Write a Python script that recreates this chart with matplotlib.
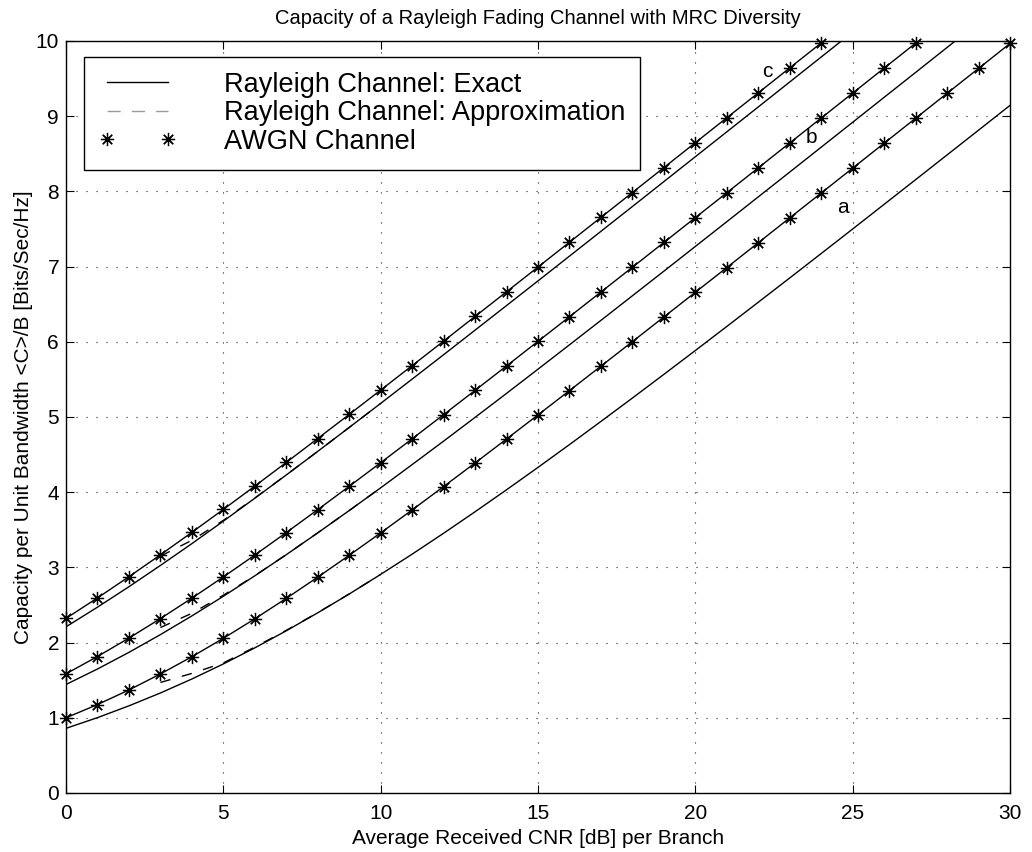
import matplotlib
matplotlib.use("Agg")
import matplotlib.pyplot as plt
from matplotlib.lines import Line2D

plt.rcParams['font.family'] = ['Liberation Sans', 'DejaVu Sans']

# Average received CNR per branch [dB]
cnr_db = list(range(0, 31))

# Rayleigh channel, exact capacity (curves a, b, c)
rayleigh_exact_a = [0.860, 1.002, 1.159, 1.330, 1.516, 1.716, 1.930, 2.157, 2.396, 2.646,
                    2.907, 3.176, 3.454, 3.740, 4.032, 4.330, 4.633, 4.941, 5.252, 5.567,
                    5.884, 6.204, 6.526, 6.849, 7.174, 7.500, 7.828, 8.156, 8.485, 8.814,
                    9.144]
rayleigh_exact_b = [1.443, 1.649, 1.870, 2.106, 2.355, 2.616, 2.888, 3.169, 3.459, 3.756,
                    4.058, 4.367, 4.679, 4.995, 5.314, 5.636, 5.960, 6.285, 6.612, 6.939,
                    7.268, 7.597, 7.927, 8.257, 8.588, 8.919, 9.251, 9.582, 9.914, 10.245]
rayleigh_exact_c = [2.210, 2.471, 2.743, 3.026, 3.316, 3.615, 3.920, 4.229, 4.543, 4.861,
                    5.181, 5.504, 5.828, 6.155, 6.482, 6.810, 7.139, 7.469, 7.799, 8.130,
                    8.461, 8.792, 9.123, 9.455, 9.787, 10.119]

# Rayleigh channel, approximation (from 3 dB on)
approx_db = [3, 4, 5, 6, 7, 8, 9, 10]
rayleigh_approx_a = [1.47, 1.59, 1.73, 1.94, 2.163, 2.398, 2.647, 2.907]
rayleigh_approx_b = [2.20, 2.39, 2.63, 2.89, 3.170, 3.460, 3.756, 4.058]
rayleigh_approx_c = [3.15, 3.36, 3.625, 3.922, 4.230, 4.543, 4.861, 5.181]

# AWGN channel capacity
awgn_a = [1.000, 1.176, 1.370, 1.583, 1.812, 2.057, 2.316, 2.588, 2.870, 3.161,
          3.459, 3.764, 4.075, 4.389, 4.707, 5.028, 5.351, 5.676, 6.002, 6.330,
          6.658, 6.987, 7.317, 7.648, 7.978, 8.309, 8.641, 8.972, 9.304, 9.635,
          9.967]
awgn_b = [1.585, 1.815, 2.060, 2.319, 2.591, 2.873, 3.164, 3.463, 3.768, 4.078,
          4.392, 4.710, 5.031, 5.354, 5.679, 6.006, 6.333, 6.662, 6.991, 7.321,
          7.651, 7.982, 8.313, 8.644, 8.975, 9.307, 9.639, 9.971]
awgn_c = [2.322, 2.594, 2.876, 3.167, 3.466, 3.771, 4.081, 4.396, 4.714, 5.034,
          5.358, 5.683, 6.009, 6.337, 6.665, 6.994, 7.324, 7.654, 7.985, 8.316,
          8.648, 8.979, 9.310, 9.642, 9.974]

curve_labels = ['a', 'b', 'c']
curve_label_pos = [(24.7, 7.78), (23.7, 8.72), (22.3, 9.59)]

legend_labels = ['Rayleigh Channel: Exact', 'Rayleigh Channel: Approximation', 'AWGN Channel']

fig = plt.figure(figsize=(10.32, 8.52), dpi=100)
ax = fig.add_axes([66 / 1032, 59 / 852, 944 / 1032, 752 / 852])

star = (8, 2, 0)
dash_pat = (7.5, 8.5)

for exact in (rayleigh_exact_a, rayleigh_exact_b, rayleigh_exact_c):
    ax.plot(cnr_db[:len(exact)], exact, color='k', lw=1.0)

for approx in (rayleigh_approx_a, rayleigh_approx_b, rayleigh_approx_c):
    ax.plot(approx_db, approx, color='k', lw=1.0, dashes=dash_pat)

for awgn in (awgn_a, awgn_b, awgn_c):
    xs = cnr_db[:len(awgn)]
    ax.plot(xs, awgn, color='k', lw=1.0)
    ax.plot(xs, awgn, linestyle='none', marker=star, ms=9.5, mew=0.9,
            color='k', clip_on=False, zorder=3)

for lab, (lx, ly) in zip(curve_labels, curve_label_pos):
    ax.text(lx, ly, lab, fontsize=15, ha='center', va='center')

ax.set_xlim(0, 30)
ax.set_ylim(0, 10)
ax.set_xticks([0, 5, 10, 15, 20, 25, 30])
ax.set_yticks(range(0, 11))
ax.grid(True, color='#222222', linestyle=(0, (1, 8)), lw=0.8)
ax.tick_params(direction='in', top=True, right=True, length=6, width=0.8,
               labelsize=15)
ax.tick_params(axis='x', pad=8)
ax.tick_params(axis='y', pad=5)
for sp in ax.spines.values():
    sp.set_linewidth(1.0)
    sp.set_color('k')

ax.set_title('Capacity of a Rayleigh Fading Channel with MRC Diversity',
             fontsize=14.5, pad=12)
ax.set_xlabel('Average Received CNR [dB] per Branch', fontsize=15, labelpad=4)
ax.set_ylabel('Capacity per Unit Bandwidth <C>/B [Bits/Sec/Hz]', fontsize=15,
              labelpad=2)

handles = [
    Line2D([], [], color='k', lw=1.0),
    Line2D([], [], color='#9a9a9a', lw=1.0, dashes=(9.5, 8)),
    Line2D([], [], color='k', linestyle='none', marker=star, ms=9.5, mew=0.9),
]
leg = ax.legend(handles, legend_labels, loc='upper left',
                bbox_to_anchor=(18 / 944, 1 - 16 / 752), fontsize=19.5,
                numpoints=2, handlelength=2.84, handletextpad=1.77,
                labelspacing=0.09, borderpad=0.55, borderaxespad=0.0,
                fancybox=False, framealpha=1.0)
leg.get_frame().set_edgecolor('k')
leg.get_frame().set_linewidth(1.0)

fig.savefig('out.png', dpi=100)
